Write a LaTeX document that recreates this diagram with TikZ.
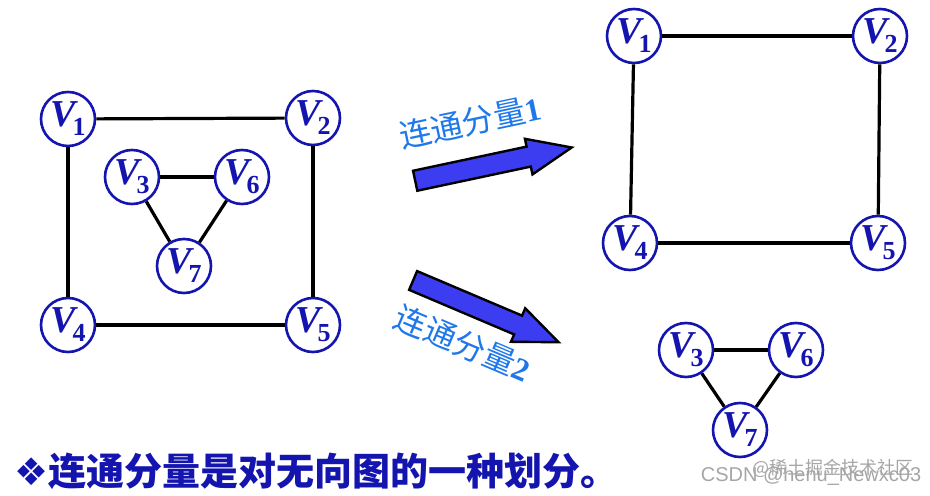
\documentclass[tikz,border=0pt]{standalone}
\usepackage{fontspec}
\setmainfont{Liberation Serif}
\newfontfamily\cjk{Noto Sans CJK SC}
\newfontfamily\symfont{DejaVu Sans}
\newfontfamily\wmfont{Liberation Sans}
\usetikzlibrary{shapes.arrows}
\definecolor{vblue}{RGB}{20,20,175}
\definecolor{arrblue}{RGB}{60,60,240}
\definecolor{labblue}{RGB}{30,120,235}
\newcommand{\vx}[1]{{\fontsize{19}{19}\selectfont\bfseries\itshape V}\kern-1.5pt\raisebox{-4.5pt}{\fontsize{13}{13}\selectfont\bfseries #1}}

\begin{document}
\begin{tikzpicture}[x=0.5pt, y=-0.5pt,
    vtx/.style={circle, draw=vblue, line width=1.3pt, fill=white, minimum size=27pt, inner sep=0pt, text=vblue},
    edge/.style={line width=1.6pt},
    bigarrow/.style={single arrow, draw=black, line width=1.2pt, fill=arrblue, inner xsep=0pt, inner ysep=4.5pt, single arrow head extend=4pt, single arrow tip angle=45, anchor=tail},
    lab/.style={text=labblue, font=\fontsize{16}{16}\selectfont}]
  \useasboundingbox (0,0) rectangle (930,496);

  % whole graph
  \node[vtx] (l1) at (68,119) {\vx{1}};
  \node[vtx] (l2) at (313,118) {\vx{2}};
  \node[vtx] (l4) at (68,325) {\vx{4}};
  \node[vtx] (l5) at (313,325) {\vx{5}};
  \node[vtx] (l3) at (132,177) {\vx{3}};
  \node[vtx] (l6) at (242,177) {\vx{6}};
  \node[vtx] (l7) at (184,266) {\vx{7}};
  \draw[edge] (l1) -- (l2);
  \draw[edge] (l1) -- (l4);
  \draw[edge] (l2) -- (l5);
  \draw[edge] (l4) -- (l5);
  \draw[edge] (l3) -- (l6);
  \draw[edge] (l3) -- (l7);
  \draw[edge] (l6) -- (l7);

  % component 1
  \node[vtx] (r1) at (634,36) {\vx{1}};
  \node[vtx] (r2) at (880,36) {\vx{2}};
  \node[vtx] (r4) at (630,243) {\vx{4}};
  \node[vtx] (r5) at (878,243) {\vx{5}};
  \draw[edge] (r1) -- (r2);
  \draw[edge] (r1) -- (r4);
  \draw[edge] (r2) -- (r5);
  \draw[edge] (r4) -- (r5);

  % component 2
  \node[vtx] (r3) at (686,350) {\vx{3}};
  \node[vtx] (r6) at (796,350) {\vx{6}};
  \node[vtx] (r7) at (740,430) {\vx{7}};
  \draw[edge] (r3) -- (r6);
  \draw[edge] (r3) -- (r7);
  \draw[edge] (r6) -- (r7);

  % arrows
  \node[bigarrow, rotate=12, minimum height=80pt] (arr1) at (414,181) {};
  \node[bigarrow, rotate=-23, minimum height=79pt] (arr2) at (412,280) {};
  \node[lab, rotate=12] (lab1) at (470,122) {{\cjk 连通分量}\textbf{1}};
  \node[lab, rotate=-23] (lab2) at (463,343) {{\cjk 连通分量}\textbf{2}};

  % note
  \node[anchor=west, inner sep=0pt, text=vblue, font=\fontsize{19}{19}\selectfont] (note) at (14,471)
    {{\symfont ❖}{\cjk\bfseries 连通分量是对无向图的一种划分。}};

  % watermark
  \node[text=gray!70, font=\fontsize{9}{9}\selectfont\cjk] (wm1) at (833,468) {@稀土掘金技术社区};
  \node[text=gray!70, font=\fontsize{10}{10}\selectfont\wmfont] (wm2) at (811,476) {CSDN @henu\_Newxc03};
\end{tikzpicture}
\end{document}
